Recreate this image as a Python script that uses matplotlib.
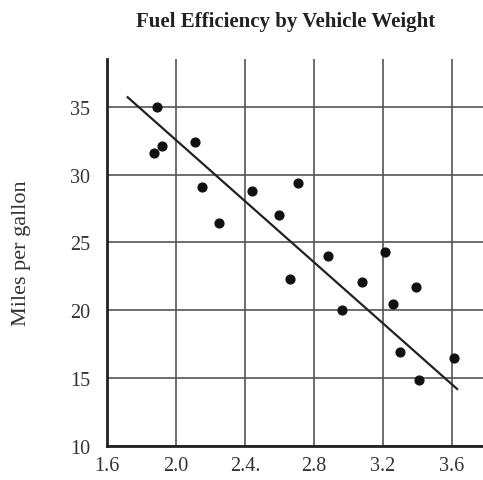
import matplotlib.pyplot as plt

# data
weight = [1.89, 1.87, 1.92, 2.11, 2.15, 2.25, 2.44, 2.60, 2.71, 2.66,
          2.88, 2.96, 3.08, 3.21, 3.26, 3.39, 3.30, 3.41, 3.61]
mpg = [35.0, 31.6, 32.1, 32.4, 29.1, 26.4, 28.8, 27.0, 29.4, 22.3,
       24.0, 20.0, 22.1, 24.3, 20.5, 21.7, 16.9, 14.9, 16.5]
fit_x = [1.72, 3.63]
fit_y = [35.7, 14.2]
xticks = [1.6, 2.0, 2.4, 2.8, 3.2, 3.6]
xticklabels = ['1.6', '2.0', '2.4.', '2.8', '3.2', '3.6']
yticks = [10, 15, 20, 25, 30, 35]

plt.rcParams['font.family'] = ['Liberation Serif', 'DejaVu Serif']

fig = plt.figure(figsize=(4.83, 4.81), dpi=100)
ax = fig.add_axes([0.2215, 0.0707, 0.7785, 0.804])

ax.set_xlim(1.6, 3.78)
ax.set_ylim(10, 38.5)
ax.set_xticks(xticks)
ax.set_xticklabels(xticklabels)
ax.set_yticks(yticks)
ax.tick_params(length=0, labelsize=14.5, labelcolor='#333333')
ax.tick_params(axis='x', pad=7)
ax.tick_params(axis='y', pad=12)

ax.grid(True, color='#555555', linewidth=1.2)
ax.set_axisbelow(True)
for s in ['top', 'right']:
    ax.spines[s].set_visible(False)
for s in ['left', 'bottom']:
    ax.spines[s].set_linewidth(2)
    ax.spines[s].set_color('#222222')

ax.plot(fit_x, fit_y, color='#222222', linewidth=1.6, zorder=3)
ax.scatter(weight, mpg, s=40, color='#111111', zorder=4)

ax.set_ylabel('Miles per gallon', fontsize=16, color='#333333', labelpad=28)
fig.text(0.592, 0.955, 'Fuel Efficiency by Vehicle Weight', ha='center', va='center',
         fontsize=15, fontweight='bold', color='#222222')

fig.savefig('out.png', dpi=100)
